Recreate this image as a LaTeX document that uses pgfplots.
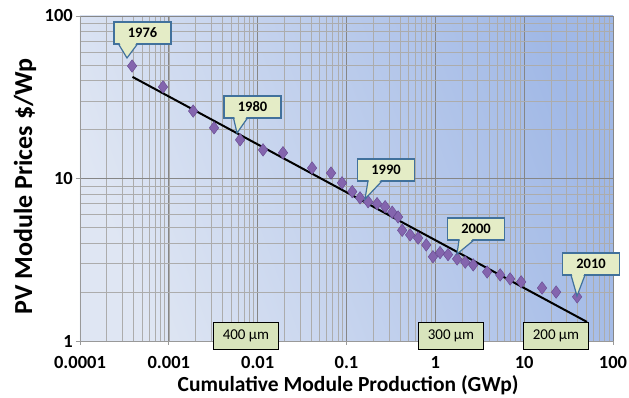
\documentclass[border=0pt]{standalone}
\usepackage{fontspec}
\setmainfont{Carlito}
\usepackage{pgfplots}
\pgfplotsset{compat=1.18}
\usetikzlibrary{calc}
\definecolor{bgL}{HTML}{DFE6F3}
\definecolor{bgR}{HTML}{A0B8E6}
\definecolor{calfill}{HTML}{E4ECC6}
\definecolor{calborder}{HTML}{41719C}
\definecolor{boxfill}{HTML}{D8E4BC}
\definecolor{mk}{HTML}{8465AE}
\definecolor{mkd}{HTML}{654890}
\newcommand\callout[7]{%
  \fill[calfill] ({#1+#4},{#2+10}) -- (#6,#7) -- ({#1+#5},{#2+10}) -- cycle;
  \node[draw=calborder, fill=calfill, line width=1.2pt, minimum width=57pt, minimum height=22pt,
        inner sep=0pt, font=\fontsize{14.5}{16}\selectfont\bfseries] at (#1,#2) {#3};
  \fill[calfill] ({#1+#4+0.8},{#2+9.5}) -- (#6,#7) -- ({#1+#5-0.8},{#2+9.5}) -- cycle;
  \draw[calborder, line width=1.2pt, line join=miter] ({#1+#4},{#2+11}) -- (#6,#7) -- ({#1+#5},{#2+11});
}
\newcommand\umbox[3]{%
  \node[draw=black, fill=boxfill, line width=1.8pt, minimum width=65pt, minimum height=27pt,
        inner sep=0pt, font=\fontsize{15}{17}\selectfont] at (#1,#2) {#3};
}
\begin{document}
\begin{tikzpicture}
\begin{axis}[
  name=ax,
  scale only axis, width=533pt, height=325pt,
  xmode=log, ymode=log,
  xmin=1e-4, xmax=100, ymin=1, ymax=100,
  axis lines*=left,
  axis line style={draw=gray!80, line width=0.8pt},
  axis background/.style={left color=bgL, right color=bgR, shading angle=110},
  grid=both,
  major grid style={draw=gray!95, line width=0.9pt},
  minor grid style={draw=gray!65, line width=0.6pt},
  xtick={1e-4,1e-3,0.01,0.1,1,10,100},
  xticklabels={0.0001,0.001,0.01,0.1,1,10,100},
  ytick={1,10,100}, yticklabels={1,10,100},
  minor tick length=0pt,
  major tick length=4pt,
  tick align=outside,
  tick style={draw=gray!80, line width=0.8pt},
  tick label style={font=\fontsize{18.5}{20}\selectfont\bfseries},
  xticklabel style={anchor=center, inner sep=0pt, yshift=-18pt},
  yticklabel style={anchor=east, inner sep=0pt, xshift=-3pt},
  xlabel={Cumulative Module Production (GWp)},
  ylabel={PV Module Prices \$/Wp},
  xlabel style={font=\fontsize{21.5}{23}\selectfont\bfseries, at={(axis description cs:0.503,-0.136)}, anchor=center},
  ylabel style={font=\fontsize{26}{28}\selectfont\bfseries, at={(axis description cs:-0.103,0.475)}, anchor=center},
  clip=false,
]
\addplot[black, line width=2pt] coordinates {(0.00039,42.2) (51,1.31)};
\addplot[only marks, mark=diamond*, mark size=6.3pt, mark options={fill=mk, draw=mkd, line width=0.4pt}] coordinates {
(0.000386,49.2) (0.00086,36.6) (0.00188,26) (0.00323,20.5) (0.00634,17.3)
(0.0115,15.0) (0.0193,14.4) (0.041,11.6) (0.067,10.8) (0.089,9.4)
(0.116,8.3) (0.142,7.6) (0.175,7.2) (0.221,7.0) (0.272,6.7)
(0.327,6.2) (0.381,5.8) (0.423,4.8) (0.52,4.5) (0.64,4.3)
(0.79,3.9) (0.94,3.3) (1.13,3.5) (1.39,3.4) (1.76,3.2)
(2.17,3.06) (2.67,2.94) (3.83,2.66) (5.37,2.55) (6.95,2.41)
(9.25,2.31) (15.9,2.12) (22.9,2.0) (39.5,1.87)
};
\end{axis}
\begin{scope}[shift={($(ax.north west)+(-80pt,16pt)$)}, x=1pt, y=-1pt]
\callout{142.5}{33}{1976}{-24}{-5}{127}{58}
\callout{252.5}{107}{1980}{-19}{-5}{237}{133}
\callout{386}{170}{1990}{-18}{-4}{365}{199}
\callout{476}{229}{2000}{-17}{-2}{457}{254}
\callout{591}{264}{2010}{-20}{-6}{577}{296}
\umbox{246}{336}{400 μm}
\umbox{451}{336}{300 μm}
\umbox{556}{336}{200 μm}
\pgfresetboundingbox
\path (0,0) rectangle (629,398);
\end{scope}
\end{tikzpicture}
\end{document}
